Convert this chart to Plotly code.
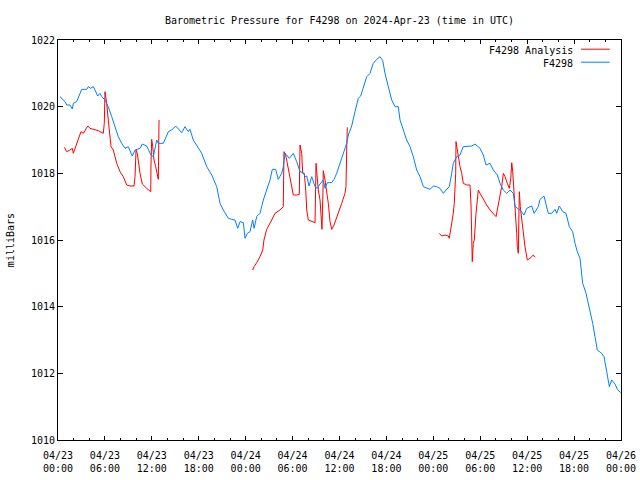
import pandas as pd
import plotly.graph_objects as go

BASE = pd.Timestamp("2024-04-23 00:00")

# Station observations (F4298): hours after 2024-04-23 00:00 UTC, pressure in mb
obs_hours = [0.26, 0.90, 1.11, 1.53, 1.83, 1.96, 2.39, 3.03, 3.67, 3.88, 4.18, 4.51, 4.73, 5.08,
             5.37, 5.59, 6.01, 6.43, 6.87, 7.29, 7.71, 8.15, 8.57, 8.99, 9.50, 9.85, 10.49, 10.78,
             11.34, 11.89, 12.19, 12.62, 12.83, 13.47, 14.11, 14.54, 15.05, 15.82, 16.24, 16.66,
             16.88, 17.30, 17.94, 18.38, 19.02, 19.66, 20.30, 20.72, 21.14, 21.78, 22.21, 22.64,
             22.98, 23.28, 23.70, 23.92, 24.21, 24.55, 24.90, 25.07, 25.41, 25.83, 26.26, 26.69,
             27.11, 27.41, 27.84, 28.17, 28.61, 28.81, 29.03, 29.25, 29.58, 30.09, 30.53, 30.95,
             31.37, 31.59, 31.81, 32.10, 32.45, 32.87, 33.16, 33.51, 33.93, 34.15, 34.44, 35.00,
             35.30, 35.64, 36.06, 36.49, 36.92, 37.13, 37.56, 37.98, 38.41, 38.71, 39.13, 39.48,
             39.90, 40.32, 40.76, 41.18, 41.53, 41.82, 42.24, 42.68, 43.10, 43.52, 43.74, 44.16,
             44.59, 45.02, 45.44, 45.87, 46.30, 46.72, 47.15, 47.57, 48.00, 48.43, 48.85, 49.28,
             49.62, 50.04, 50.35, 50.55, 50.99, 51.41, 51.83, 52.27, 52.91, 53.33, 53.75, 53.97,
             54.39, 54.74, 55.25, 55.67, 56.18, 56.53, 56.95, 57.38, 57.81, 58.23, 58.45, 58.87,
             59.09, 59.60, 59.94, 60.58, 60.88, 61.42, 61.64, 62.15, 62.70, 63.14, 63.56, 63.78,
             64.11, 64.55, 64.97, 65.39, 65.82, 66.12, 66.41, 66.76, 67.10, 67.53, 67.95, 68.38,
             68.68, 68.97, 69.53, 69.83, 70.17, 70.51, 70.81, 71.23, 71.53, 71.96]
obs_mb = [1020.30, 1020.15, 1020.05, 1020.05, 1019.93, 1020.10, 1020.15, 1020.52, 1020.52, 1020.60,
          1020.55, 1020.60, 1020.50, 1020.32, 1020.40, 1020.30, 1020.20, 1020.00, 1019.70, 1019.40,
          1019.10, 1018.90, 1018.75, 1018.80, 1018.52, 1018.70, 1018.75, 1018.88, 1018.82, 1018.55,
          1018.50, 1019.00, 1018.90, 1018.90, 1019.25, 1019.30, 1019.42, 1019.22, 1019.40, 1019.25,
          1019.32, 1019.00, 1018.75, 1018.60, 1018.20, 1017.95, 1017.60, 1017.10, 1016.90, 1016.65,
          1016.62, 1016.60, 1016.35, 1016.55, 1016.52, 1016.05, 1016.20, 1016.25, 1016.60, 1016.35,
          1016.70, 1016.80, 1017.20, 1017.50, 1017.80, 1018.12, 1018.12, 1017.82, 1018.00, 1018.20,
          1018.60, 1018.55, 1018.45, 1018.60, 1018.35, 1018.05, 1018.02, 1017.90, 1017.92, 1017.62,
          1017.90, 1017.60, 1017.55, 1017.68, 1017.80, 1017.55, 1017.72, 1017.72, 1017.82, 1018.00,
          1018.30, 1018.60, 1018.90, 1019.15, 1019.42, 1019.85, 1020.25, 1020.32, 1020.60, 1020.90,
          1021.00, 1021.30, 1021.42, 1021.50, 1021.38, 1021.00, 1020.60, 1020.20, 1020.00, 1020.00,
          1019.60, 1019.30, 1019.00, 1018.80, 1018.50, 1018.10, 1017.90, 1017.60, 1017.55, 1017.52,
          1017.62, 1017.60, 1017.55, 1017.40, 1017.50, 1017.60, 1018.00, 1018.30, 1018.50, 1018.55,
          1018.80, 1018.80, 1018.82, 1018.88, 1018.80, 1018.75, 1018.55, 1018.25, 1018.30, 1018.10,
          1017.95, 1017.70, 1017.50, 1017.40, 1017.50, 1017.40, 1017.00, 1016.95, 1016.90, 1016.75,
          1016.95, 1017.02, 1016.80, 1017.00, 1017.22, 1017.32, 1016.80, 1016.80, 1016.92, 1016.80,
          1017.02, 1016.85, 1016.80, 1016.40, 1016.25, 1015.90, 1015.65, 1015.45, 1014.70, 1014.40,
          1014.00, 1013.50, 1013.10, 1012.70, 1012.60, 1012.50, 1012.05, 1011.60, 1011.80, 1011.68,
          1011.52, 1011.42]

# Analysis series, three separate 12-hour segments
ana1_hours = [0.81, 1.11, 1.53, 1.83, 1.96, 2.39, 2.69, 2.94, 3.24, 3.80, 4.09, 4.51, 5.15, 5.79,
              5.92, 6.01, 6.14, 6.23, 6.43, 6.65, 6.78, 7.07, 7.51, 7.93, 8.35, 8.79, 9.21, 9.72,
              9.85, 9.98, 10.14, 10.49, 10.78, 11.34, 11.86, 11.89, 11.98, 12.11, 12.28, 12.49,
              12.70, 12.83, 12.92]
ana1_mb = [1018.78, 1018.65, 1018.70, 1018.75, 1018.60, 1018.90, 1019.10, 1019.25, 1019.20, 1019.42,
           1019.35, 1019.32, 1019.28, 1019.20, 1019.50, 1020.45, 1020.25, 1020.10, 1019.60, 1019.10,
           1018.80, 1018.70, 1018.30, 1018.05, 1017.90, 1017.65, 1017.62, 1017.62, 1017.90, 1018.70,
           1018.60, 1018.00, 1017.68, 1017.55, 1017.45, 1018.25, 1019.02, 1018.80, 1018.40, 1018.20,
           1018.00, 1017.82, 1019.60]
ana2_hours = [24.90, 25.07, 25.41, 25.83, 26.18, 26.34, 26.69, 26.89, 27.33, 27.75, 28.05, 28.39,
              28.81, 28.90, 29.12, 29.25, 29.58, 29.89, 30.09, 30.53, 30.86, 30.95, 31.04, 31.17,
              31.29, 31.50, 31.68, 31.81, 32.01, 32.45, 32.87, 33.00, 33.09, 33.16, 33.29, 33.51,
              33.63, 33.76, 33.89, 33.93, 34.15, 34.36, 34.57, 34.79, 35.00, 35.30, 35.64, 35.97,
              36.28, 36.70, 36.83, 36.92, 37.00]
ana2_mb = [1015.10, 1015.20, 1015.32, 1015.50, 1015.70, 1016.00, 1016.32, 1016.40, 1016.60, 1016.80,
           1016.85, 1016.90, 1017.00, 1018.65, 1018.55, 1018.40, 1018.00, 1017.60, 1017.35, 1017.35,
           1017.37, 1018.85, 1018.70, 1018.60, 1018.00, 1018.00, 1017.50, 1016.90, 1016.60, 1016.55,
           1016.52, 1018.30, 1018.05, 1018.10, 1017.50, 1017.20, 1016.60, 1016.32, 1017.50, 1018.08,
           1017.80, 1017.45, 1017.10, 1016.55, 1016.32, 1016.45, 1016.70, 1016.90, 1017.10, 1017.40,
           1017.60, 1018.70, 1019.38]
ana3_hours = [48.76, 49.07, 49.49, 49.91, 50.04, 50.22, 50.43, 50.55, 50.68, 50.86, 50.90, 51.07,
              51.19, 51.41, 51.63, 51.83, 52.27, 52.69, 52.82, 52.91, 52.98, 53.11, 53.24, 53.46,
              53.75, 53.97, 54.39, 54.82, 55.25, 55.67, 56.02, 56.18, 56.53, 56.74, 56.95, 57.17,
              57.46, 57.72, 57.90, 58.03, 58.15, 58.36, 58.54, 58.66, 58.74, 58.87, 58.96, 59.00,
              59.12, 59.30, 59.51, 59.72, 60.02, 60.36, 60.79, 61.00]
ana3_mb = [1016.20, 1016.12, 1016.15, 1016.12, 1016.05, 1016.30, 1016.50, 1016.80, 1017.10, 1018.00,
           1018.95, 1018.70, 1018.50, 1018.20, 1018.00, 1017.70, 1017.65, 1017.65, 1017.05, 1015.90,
           1015.35, 1015.90, 1016.00, 1016.80, 1017.50, 1017.40, 1017.22, 1017.05, 1016.90, 1016.80,
           1016.70, 1016.90, 1017.30, 1017.60, 1018.00, 1017.90, 1017.70, 1017.55, 1017.85, 1018.32,
           1018.05, 1017.40, 1016.55, 1016.20, 1015.80, 1015.60, 1016.95, 1017.45, 1017.00, 1016.60,
           1016.10, 1015.80, 1015.40, 1015.45, 1015.55, 1015.48]

y_ticks = [1010, 1012, 1014, 1016, 1018, 1020, 1022]

TITLE = "Barometric Pressure for F4298 on 2024-Apr-23 (time in UTC)"
FONT = "DejaVu Sans Mono"


def to_time(hours):
    return [BASE + pd.Timedelta(hours=h) for h in hours]


ana_x, ana_y = [], []
for hs, vs in [(ana1_hours, ana1_mb), (ana2_hours, ana2_mb), (ana3_hours, ana3_mb)]:
    if ana_x:
        ana_x.append(None)
        ana_y.append(None)
    ana_x += to_time(hs)
    ana_y += vs

RED = "#ff0000"
BLUE = "#0080ff"

fig = go.Figure()
fig.add_trace(go.Scatter(x=ana_x, y=ana_y, mode="lines", name="F4298 Analysis",
                         line=dict(color=RED, width=1), connectgaps=False))
fig.add_trace(go.Scatter(x=to_time(obs_hours), y=obs_mb, mode="lines", name="F4298",
                         line=dict(color=BLUE, width=1)))

axis_common = dict(showline=True, linecolor="black", linewidth=1, mirror="allticks",
                   ticks="inside", tickcolor="black", showgrid=False, zeroline=False,
                   automargin=False,
                   tickfont=dict(family=FONT, size=10, color="black"))

fig.update_xaxes(type="date", range=[BASE, BASE + pd.Timedelta(hours=72)],
                 tick0=BASE, dtick=6 * 3600000, tickformat="%m/%d<br>%H:%M",
                 ticklen=4, ticklabelstandoff=6,
                 minor=dict(dtick=2 * 3600000, ticklen=2, ticks="inside",
                            tickcolor="black", showgrid=False),
                 **axis_common)
fig.update_yaxes(range=[1010, 1022], tickvals=y_ticks, ticktext=[str(v) for v in y_ticks],
                 ticklen=5, **axis_common)

# gnuplot-style legend: text then line sample
legend_items = [("F4298 Analysis", RED, 0.975), ("F4298", BLUE, 0.9425)]
for label, color, yy in legend_items:
    fig.add_annotation(xref="paper", yref="paper", x=0.919, y=yy, text=label, showarrow=False,
                       xanchor="right", yanchor="middle",
                       font=dict(family=FONT, size=10, color="black"))
    fig.add_shape(type="line", xref="paper", yref="paper", x0=0.929, x1=0.980,
                  y0=yy + 0.002, y1=yy + 0.002, line=dict(color=color, width=1))

fig.add_annotation(xref="paper", yref="paper", x=-0.085, y=0.5, text="milliBars",
                   textangle=-90, showarrow=False, xanchor="center", yanchor="middle",
                   font=dict(family=FONT, size=10, color="black"))

fig.update_layout(
    width=640, height=480,
    margin=dict(l=58, r=19, t=40, b=40, autoexpand=False),
    paper_bgcolor="white", plot_bgcolor="white",
    showlegend=False,
    title=dict(text=TITLE, x=0.5, xref="paper", xanchor="center",
               y=1 - 20 / 480, yref="container", yanchor="middle",
               font=dict(family=FONT, size=10, color="black")),
    font=dict(family=FONT, size=10, color="black"),
)

fig.write_html("out.html", config={"displayModeBar": False},
               post_script="document.body.style.margin='0px';document.body.style.padding='0px';")
